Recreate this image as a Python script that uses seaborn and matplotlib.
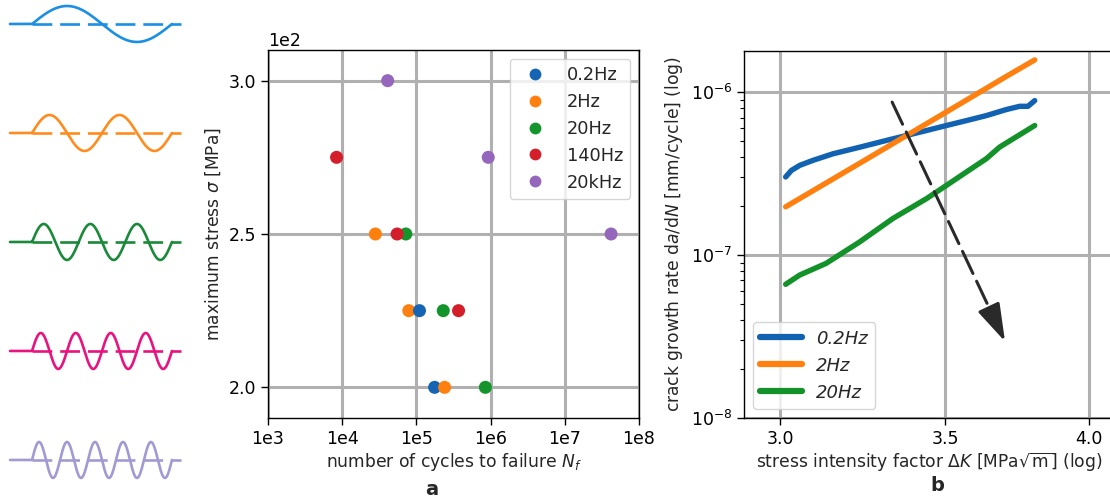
import numpy as np
import pandas as pd
import matplotlib
matplotlib.use('Agg')
import matplotlib.pyplot as plt
from matplotlib.lines import Line2D
from matplotlib.ticker import FixedLocator, FixedFormatter, NullLocator
import seaborn as sns

# ---------------- data ----------------
wave_cycles = [1, 2, 3, 4, 5]
wave_colors = ['#1a8fe3', '#ff8c1f', '#1a8a3a', '#e8137f', '#a39ad3']

freq_labels = ['0.2Hz', '2Hz', '20Hz', '140Hz', '20kHz']
freq_colors = ['#1565b4', '#ff800e', '#14952b', '#d41f2a', '#9467bd']

sn_freq = ['20kHz', '140Hz', '20kHz', '2Hz', '20Hz', '140Hz', '20kHz',
           '2Hz', '0.2Hz', '20Hz', '140Hz', '0.2Hz', '2Hz', '20Hz']
sn_cycles = [4.1e4, 8.4e3, 9.3e5, 2.8e4, 7.2e4, 5.5e4, 4.2e7,
             7.9e4, 1.1e5, 2.3e5, 3.7e5, 1.76e5, 2.4e5, 8.5e5]
sn_stress = [300, 275, 275, 250, 250, 250, 250,
             225, 225, 225, 225, 200, 200, 200]

sn_xticks = [1e3, 1e4, 1e5, 1e6, 1e7, 1e8]
sn_xticklabels = ['1e3', '1e4', '1e5', '1e6', '1e7', '1e8']
sn_yticks = [200, 250, 300]

cg_labels = ['0.2Hz', '2Hz', '20Hz']
cg_colors = ['#1163b2', '#ff800e', '#14922a']
dk_02 = [3.015, 3.031, 3.055, 3.093, 3.151, 3.231, 3.312, 3.375, 3.438,
         3.503, 3.569, 3.636, 3.704, 3.751, 3.780, 3.804]
rate_02 = [3.02e-7, 3.31e-7, 3.56e-7, 3.82e-7, 4.19e-7, 4.60e-7, 5.06e-7, 5.43e-7,
           5.82e-7, 6.25e-7, 6.70e-7, 7.19e-7, 7.83e-7, 8.20e-7, 8.20e-7, 8.89e-7]
dk_2 = [3.015, 3.231, 3.503, 3.704, 3.804]
rate_2 = [1.98e-7, 3.67e-7, 7.57e-7, 1.25e-6, 1.58e-6]
dk_20 = [3.015, 3.055, 3.131, 3.231, 3.332, 3.438, 3.503, 3.569, 3.636,
         3.681, 3.728, 3.804]
rate_20 = [6.62e-8, 7.55e-8, 8.90e-8, 1.207e-7, 1.677e-7, 2.22e-7, 2.68e-7,
           3.24e-7, 3.91e-7, 4.60e-7, 5.18e-7, 6.25e-7]
cg_xticks = [3.0, 3.5, 4.0]
cg_xticklabels = ['3.0', '3.5', '4.0']
arrow_start = (3.33, 8.7e-7)
arrow_end = (3.70, 2.95e-8)

# ---------------- style ----------------
sns.set_style('ticks')
plt.rcParams['font.family'] = ['DejaVu Sans']
plt.rcParams['axes.edgecolor'] = 'black'
plt.rcParams['axes.linewidth'] = 1.0
plt.rcParams['xtick.color'] = 'black'
plt.rcParams['ytick.color'] = 'black'
plt.rcParams['xtick.direction'] = 'out'
plt.rcParams['ytick.direction'] = 'out'

TICK_FS = 12.5
LABEL_FS = 12.3
GRID = dict(color='#b0b0b0', lw=2.2)

fig = plt.figure(figsize=(11.1, 5.04), dpi=100)

# ---------------- waveform sketches ----------------
ax0 = fig.add_axes([10 / 1110, 0, 171 / 1110, 1])
ax0.set_xlim(0, 1)
ax0.set_ylim(-4.404, 0.22)
ax0.axis('off')
ts, te = 0.129, 0.947
t = np.linspace(0, te, 1500)
for i, (n, c) in enumerate(zip(wave_cycles, wave_colors)):
    sig = np.where(t >= ts, 0.165 * np.sin(2 * np.pi * n * (t - ts) / (te - ts)), 0.0)
    ax0.plot(t, sig - i, color=c, lw=1.9, clip_on=False)
    ax0.plot([ts, 1.0], [-i, -i], color=c, lw=1.9, dashes=(7.5, 3), clip_on=False)

# ---------------- panel a ----------------
ax1 = fig.add_axes([268 / 1110, 1 - 418 / 504, 371 / 1110, 368 / 504])
ax1.set_xscale('log')
df_sn = pd.DataFrame({'freq': sn_freq, 'cycles': sn_cycles, 'stress': sn_stress})
sns.scatterplot(data=df_sn, x='cycles', y='stress', hue='freq', hue_order=freq_labels,
                palette=freq_colors, s=88, linewidth=0, legend=False, ax=ax1, zorder=3)
ax1.set_xlim(1e3, 1e8)
ax1.set_ylim(190, 310)
ax1.xaxis.set_major_locator(FixedLocator(sn_xticks))
ax1.xaxis.set_major_formatter(FixedFormatter(sn_xticklabels))
ax1.xaxis.set_minor_locator(NullLocator())
ax1.set_yticks(sn_yticks)
ax1.ticklabel_format(axis='y', style='sci', scilimits=(0, 0))
ax1.yaxis.get_offset_text().set_fontsize(TICK_FS)
ax1.tick_params(labelsize=TICK_FS, length=5, width=1)
ax1.grid(True, which='major', **GRID)
ax1.set_axisbelow(True)
ax1.set_xlabel(r'number of cycles to failure $N_f$', fontsize=LABEL_FS, labelpad=2)
ax1.set_ylabel(r'maximum stress $\sigma$ [MPa]', fontsize=LABEL_FS)
h1 = [Line2D([], [], marker='o', ls='', color=c, markersize=8.5, markeredgewidth=0)
      for c in freq_colors]
ax1.legend(h1, freq_labels, loc='upper right', fontsize=12.8)

# ---------------- panel b ----------------
# axes extends past the right edge of the figure (cropped as in the original)
ax2 = fig.add_axes([744 / 1110, 1 - 418 / 504, 371 / 1110, 367.3 / 504])
ax2.set_xscale('log')
ax2.set_yscale('log')
df_cg = pd.DataFrame({
    'dk': dk_02 + dk_2 + dk_20,
    'rate': rate_02 + rate_2 + rate_20,
    'freq': [cg_labels[0]] * len(dk_02) + [cg_labels[1]] * len(dk_2) + [cg_labels[2]] * len(dk_20),
})
sns.lineplot(data=df_cg, x='dk', y='rate', hue='freq', hue_order=cg_labels,
             palette=cg_colors, lw=3.9, legend=False, ax=ax2, zorder=3)
ax2.set_xlim(2.9, 4.1)
ax2.set_ylim(1e-8, 1.8e-6)
ax2.xaxis.set_major_locator(FixedLocator(cg_xticks))
ax2.xaxis.set_major_formatter(FixedFormatter(cg_xticklabels))
ax2.xaxis.set_minor_locator(NullLocator())
ax2.spines['right'].set_visible(False)
ax2.tick_params(labelsize=TICK_FS, length=5, width=1)
ax2.tick_params(which='minor', length=3, width=0.8)
ax2.grid(True, which='major', **GRID)
ax2.set_axisbelow(True)
ax2.set_xlabel(r'stress intensity factor $\Delta K$ [MPa$\sqrt{\mathrm{m}}$] (log)',
               fontsize=LABEL_FS, labelpad=2)
ax2.set_ylabel(r'crack growth rate d$a$/d$N$ [mm/cycle] (log)', fontsize=LABEL_FS)

# dashed shaft + solid head (head base found on the shaft, in log space)
lx0, ly0 = np.log10(arrow_start)
lx1, ly1 = np.log10(arrow_end)
f = 0.90
head_base = (10 ** (lx0 + f * (lx1 - lx0)), 10 ** (ly0 + f * (ly1 - ly0)))
ax2.annotate('', xy=head_base, xytext=arrow_start,
             arrowprops=dict(arrowstyle='-', color='#2a2a2a', lw=2.2,
                             linestyle=(0, (8, 2.8)), shrinkA=0, shrinkB=0),
             zorder=4)
ax2.annotate('', xy=arrow_end, xytext=head_base,
             arrowprops=dict(arrowstyle='-|>,head_length=1.45,head_width=0.45',
                             color='#2a2a2a', lw=2.2, shrinkA=0, shrinkB=0,
                             mutation_scale=16),
             zorder=4)
h2 = [Line2D([], [], color=c, lw=4.5) for c in cg_colors]
ax2.legend(h2, cg_labels, loc='lower left', prop={'size': 13, 'style': 'italic'},
           handlelength=2.3)

# ---------------- panel letters ----------------
fig.text(432 / 1110, 0.018, 'a', ha='center', va='baseline', fontsize=14, fontweight='bold')
fig.text(937 / 1110, 0.025, 'b', ha='center', va='baseline', fontsize=14, fontweight='bold')

fig.savefig('out.png', dpi=100)
